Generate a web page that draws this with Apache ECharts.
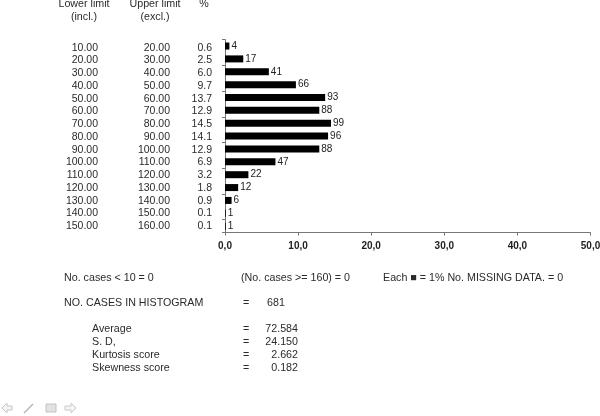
<!DOCTYPE html>
<html>
<head>
<meta charset="utf-8">
<style>html,body{margin:0;padding:0;background:#fff}</style>
<script src="https://cdn.jsdelivr.net/npm/echarts@6/dist/echarts.min.js"></script>
</head>
<body>
<div id="chart" style="width:600px;height:416px"></div>
<script>
var lowerLimits = ["10.00","20.00","30.00","40.00","50.00","60.00","70.00","80.00","90.00","100.00","110.00","120.00","130.00","140.00","150.00"];
var upperLimits = ["20.00","30.00","40.00","50.00","60.00","70.00","80.00","90.00","100.00","110.00","120.00","130.00","140.00","150.00","160.00"];
var percents = [0.6,2.5,6.0,9.7,13.7,12.9,14.5,14.1,12.9,6.9,3.2,1.8,0.9,0.1,0.1];
var counts = [4,17,41,66,93,88,99,96,88,47,22,12,6,1,1];

var font = "Liberation Sans";
var textColor = "#2b2b2b";

function txt(x, y, s, align) {
  return {
    type: "text", x: x, y: y,
    style: { text: s, fill: textColor, font: "10.7px " + font, textAlign: align || "left", textVerticalAlign: "middle" }
  };
}

// the table columns sit on a second grid, the text rows are spaced a bit tighter than the bars
function labelAxis(data, margin) {
  return {
    type: "category", gridIndex: 1, inverse: true, position: "left", data: data,
    axisLine: { show: false }, axisTick: { show: false },
    axisLabel: { margin: margin, color: textColor, fontFamily: font, fontSize: 10.5, interval: 0 }
  };
}

var myChart = echarts.init(document.getElementById("chart"));
var option = {
  animation: false,
  backgroundColor: "#fff",
  grid: [
    { left: 225, right: 9.5, top: 39.6, height: 193, outerBoundsMode: "none" },
    { left: 225, right: 9.5, top: 41.3, height: 191.4, outerBoundsMode: "none" }
  ],
  xAxis: [
    {
      type: "value", min: 0, max: 50, interval: 10,
      splitLine: { show: false },
      axisLine: { show: true, lineStyle: { color: "#777" } },
      axisTick: { show: true, length: 3, lineStyle: { color: "#777" } },
      axisLabel: {
        color: "#222", fontFamily: font, fontSize: 10, fontWeight: "bold", margin: 9,
        formatter: function (v) { return v.toFixed(1).replace(".", ","); }
      }
    },
    { type: "value", gridIndex: 1, show: false, min: 0, max: 50 }
  ],
  yAxis: [
    {
      type: "category", inverse: true, data: lowerLimits,
      axisLine: { show: true, lineStyle: { color: "#777" } },
      axisTick: { show: true, length: 3, lineStyle: { color: "#777" } },
      axisLabel: { show: false }
    },
    labelAxis(percents.map(function (p) { return p.toFixed(1); }), 13),
    labelAxis(upperLimits, 55),
    labelAxis(lowerLimits, 127)
  ],
  series: [{
    type: "bar", barWidth: 7, data: percents,
    itemStyle: { color: "#000" },
    label: {
      show: true, position: "right", distance: 2, color: "#222",
      fontFamily: font, fontSize: 10,
      formatter: function (p) { return counts[p.dataIndex]; }
    }
  }],
  graphic: [
    txt(84, 4, "Lower limit", "center"),
    txt(84, 17, "(incl.)", "center"),
    txt(155, 4, "Upper limit", "center"),
    txt(155, 17, "(excl.)", "center"),
    txt(204, 4, "%", "center"),
    txt(64, 278, "No. cases < 10 = 0"),
    txt(241, 278, "(No. cases >= 160) = 0"),
    txt(383, 278, "Each \u25A0 = 1% No. MISSING DATA. = 0"),
    txt(64, 303, "NO. CASES IN HISTOGRAM"),
    txt(243, 303, "="),
    txt(267, 303, "681"),
    txt(92, 329, "Average"),
    txt(243, 329, "="),
    txt(298, 329, "72.584", "right"),
    txt(92, 342, "S. D,"),
    txt(243, 342, "="),
    txt(298, 342, "24.150", "right"),
    txt(92, 355, "Kurtosis score"),
    txt(243, 355, "="),
    txt(298, 355, "2.662", "right"),
    txt(92, 368, "Skewness score"),
    txt(243, 368, "="),
    txt(298, 368, "0.182", "right"),
    // slide nav icons
    { type: "polygon", shape: { points: [[2,408],[7,403],[7,406],[12,406],[12,410],[7,410],[7,413]] }, style: { fill: "#f4f4f4", stroke: "#c8c8c8", lineWidth: 1 } },
    { type: "line", shape: { x1: 24, y1: 413, x2: 33, y2: 404 }, style: { stroke: "#b4b4b4", lineWidth: 1.5 } },
    { type: "rect", shape: { x: 46, y: 404, width: 10, height: 8 }, style: { fill: "#e2e2e2", stroke: "#c4c4c4", lineWidth: 1 } },
    { type: "polygon", shape: { points: [[76,408],[71,403],[71,406],[65,406],[65,410],[71,410],[71,413]] }, style: { fill: "#f4f4f4", stroke: "#c8c8c8", lineWidth: 1 } }
  ]
};
myChart.setOption(option);
</script>
</body>
</html>
